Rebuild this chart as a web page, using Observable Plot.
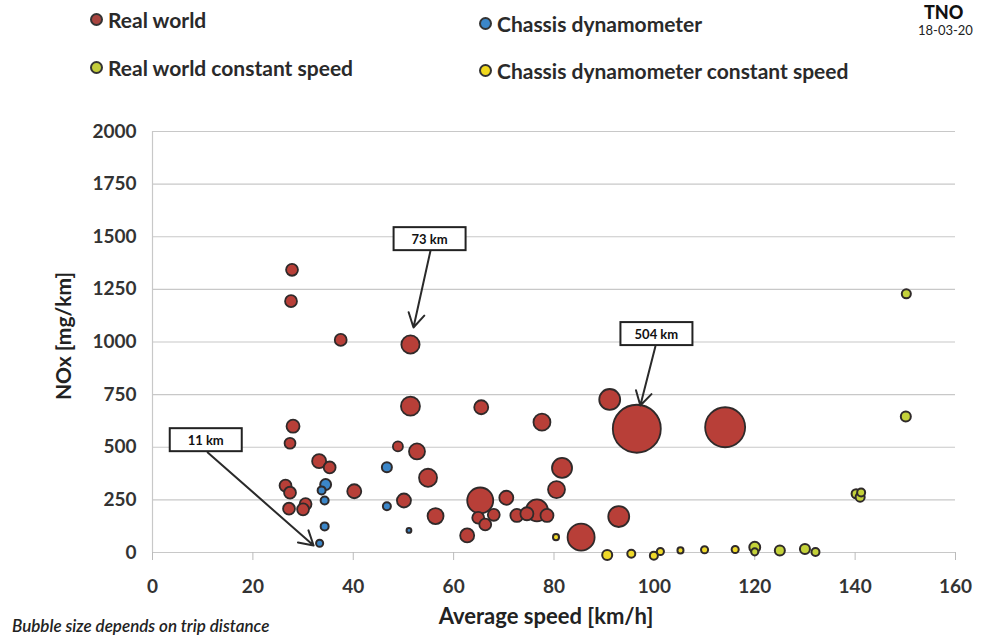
<!DOCTYPE html>
<html>
<head>
<meta charset="utf-8">
<script src="https://cdn.jsdelivr.net/npm/d3@7"></script>
<script src="https://cdn.jsdelivr.net/npm/@observablehq/plot@0.6"></script>
<style>
  html, body { margin: 0; padding: 0; background: #fff; }
  #wrap { position: relative; width: 985px; height: 637px; overflow: hidden; font-family: Lato, "Open Sans", sans-serif; color: #222; }
  .abs { position: absolute; white-space: nowrap; }
  .leg { font-weight: bold; font-size: 21px; line-height: 24px; color: #2a2a2a; }
  .leg .dot { display: inline-block; width: 9px; height: 9px; border-radius: 50%; border: 2px solid #333; margin-right: 5px; vertical-align: 2px; }
  #chart { position: absolute; left: 0; top: 100px; }
</style>
</head>
<body>
<div id="wrap">
  <div class="abs leg" style="left:90px;top:8px;"><span class="dot" style="background:#a8443f"></span>Real world</div>
  <div class="abs leg" style="left:479px;top:12px;"><span class="dot" style="background:#3b86c8"></span>Chassis dynamometer</div>
  <div class="abs leg" style="left:90px;top:56px;"><span class="dot" style="background:#c3cc3a"></span>Real world constant speed</div>
  <div class="abs leg" style="left:479px;top:59px;"><span class="dot" style="background:#f0d81e"></span>Chassis dynamometer constant speed</div>
  <div class="abs" style="left:924px;top:3px;font-weight:900;font-size:18px;line-height:18px;color:#111;">TNO</div>
  <div class="abs" style="left:918px;top:23px;font-size:13px;line-height:15px;color:#222;">18-03-20</div>
  <div id="chart"></div>
  <div class="abs" style="top:336px;transform:translate(-50%,-50%) rotate(-90deg);transform-origin:center;font-weight:bold;font-size:21px;left:62px;">NOx [mg/km]</div>
  <div class="abs" style="left:546px;top:615px;transform:translate(-50%,-50%);font-weight:bold;font-size:22px;">Average speed [km/h]</div>
  <div class="abs" style="left:12px;top:615px;font-style:italic;font-weight:600;font-size:17px;">Bubble size depends on trip distance</div>
</div>
<script>
// ---- Data ----
const xTicks = [0, 20, 40, 60, 80, 100, 120, 140, 160];
const yTicks = [0, 250, 500, 750, 1000, 1250, 1500, 1750, 2000];

// Real world: average speed [km/h], NOx [mg/km], trip distance [km]
const rwSpeed = [27.8, 27.6, 37.5, 51.4, 51.4, 65.5, 77.6, 91.1, 96.5, 114.1, 28.0, 27.4, 48.9, 52.7, 33.2, 35.3, 54.9, 26.5, 27.4, 27.2, 30.5, 30.0, 40.2, 50.1, 56.4, 65.3, 64.9, 68.0, 66.3, 70.5, 62.7, 72.6, 74.6, 76.6, 78.6, 81.6, 80.5, 85.4, 92.9];
const rwNox   = [1343, 1194, 1010, 988, 695, 690, 619, 727, 588, 595, 600, 519, 504, 480, 434, 404, 355, 318, 284, 208, 230, 205, 291, 247, 173, 247, 165, 179, 133, 260, 81, 176, 184, 200, 176, 402, 299, 73, 171];
const rwDist  = [31, 31, 31, 73, 79, 43, 63, 96, 504, 350, 37, 26, 22, 56, 43, 31, 71, 31, 31, 31, 31, 31, 43, 43, 56, 148, 31, 31, 31, 43, 43, 37, 37, 106, 37, 88, 63, 160, 96];

// Chassis dynamometer
const cdSpeed = [46.7, 34.5, 33.7, 34.3, 46.7, 34.3, 33.3, 51.1];
const cdNox   = [405, 323, 295, 247, 220, 124, 44, 105];
const cdDist  = [22, 26, 14, 14, 14, 14, 11, 5];

// Real world constant speed
const rcSpeed = [120.0, 120.0, 125.0, 130.0, 132.1, 140.2, 141.0, 141.2, 150.2, 150.1];
const rcNox   = [25, 3, 10, 17, 2, 279, 263, 285, 1229, 646];
const rcDist  = [26, 11, 22, 22, 14, 18, 18, 14, 18, 22];

// Chassis dynamometer constant speed
const ccSpeed = [80.4, 90.6, 95.4, 99.9, 101.2, 105.2, 110.0, 116.1];
const ccNox   = [73, -12, -6, -15, 5, 10, 13, 14];
const ccDist  = [8, 22, 14, 14, 11, 8, 11, 11];

// Annotations: label, box centre, arrow start and end (data units)
const annoLabel = ["73 km", "504 km", "11 km"];
const annoBoxX  = [55.2, 100.4, 10.6];
const annoBoxY  = [1487, 1036, 532];
const annoFromX = [55.4, 100.2, 11.0];
const annoFromY = [1435, 979, 475];
const annoToX   = [52.0, 97.2, 32.1];
const annoToY   = [1069, 698, 33];

const table = (sx, sy, sd) => sx.map((x, i) => ({speed: x, nox: sy[i], dist: sd[i]}));
const rw = table(rwSpeed, rwNox, rwDist);
const cd = table(cdSpeed, cdNox, cdDist);
const rc = table(rcSpeed, rcNox, rcDist);
const cc = table(ccSpeed, ccNox, ccDist);
const anno = annoLabel.map((t, i) => ({t, bx: annoBoxX[i], by: annoBoxY[i], x1: annoFromX[i], y1: annoFromY[i], x2: annoToX[i], y2: annoToY[i]}));

const outline = "#2f2a2a";
const plot = Plot.plot({
  width: 985,
  height: 537,
  marginLeft: 152,
  marginRight: 30,
  marginTop: 31,
  marginBottom: 85,
  style: {fontFamily: "Lato, 'Open Sans', sans-serif", background: "transparent", color: "#333"},
  x: {domain: [0, 160], ticks: xTicks},
  y: {domain: [0, 2000], ticks: yTicks},
  r: {type: "sqrt", domain: [0, 504], range: [0, 24]},
  marks: [
    Plot.ruleY(yTicks, {stroke: "#c8c8c8", strokeWidth: 1.2}),
    Plot.ruleX([0], {stroke: "#c8c8c8", strokeWidth: 1.2}),
    Plot.axisY({ticks: yTicks, tickSize: 0, tickPadding: 16, fontSize: 19, fontWeight: "bold", label: null, tickFormat: d => String(d)}),
    Plot.axisX({ticks: xTicks, tickSize: 8, tickPadding: 19, fontSize: 19, fontWeight: "bold", label: null, stroke: "#bbb"}),
    Plot.dot(rw, {x: "speed", y: "nox", r: "dist", fill: "#b83f38", stroke: outline, strokeWidth: 1.8}),
    Plot.dot(cd, {x: "speed", y: "nox", r: "dist", fill: "#3b86c8", stroke: outline, strokeWidth: 2}),
    Plot.dot(cc, {x: "speed", y: "nox", r: "dist", fill: "#efd92a", stroke: outline, strokeWidth: 2}),
    Plot.dot(rc, {x: "speed", y: "nox", r: "dist", fill: "#c4d23a", stroke: outline, strokeWidth: 2}),
    Plot.arrow(anno, {x1: "x1", y1: "y1", x2: "x2", y2: "y2", stroke: "#2a2a2a", strokeWidth: 2, headLength: 12, bend: 0}),
    Plot.text(anno, {x: "bx", y: "by", text: "t", fontSize: 13, fontWeight: "bold", fill: "#111", className: "anno"})
  ]
});
document.getElementById("chart").appendChild(plot);

// draw framed boxes behind annotation labels
const ns = "http://www.w3.org/2000/svg";
plot.querySelectorAll(".anno text").forEach(t => {
  const b = t.getBBox();
  const w = 72, h = 23;
  const r = document.createElementNS(ns, "rect");
  r.setAttribute("x", b.x + b.width / 2 - w / 2);
  r.setAttribute("y", b.y + b.height / 2 - h / 2);
  r.setAttribute("width", w);
  r.setAttribute("height", h);
  r.setAttribute("fill", "#fff");
  r.setAttribute("stroke", "#222");
  r.setAttribute("stroke-width", 2);
  if (t.getAttribute("transform")) r.setAttribute("transform", t.getAttribute("transform"));
  t.parentNode.insertBefore(r, t);
});
</script>
</body>
</html>
